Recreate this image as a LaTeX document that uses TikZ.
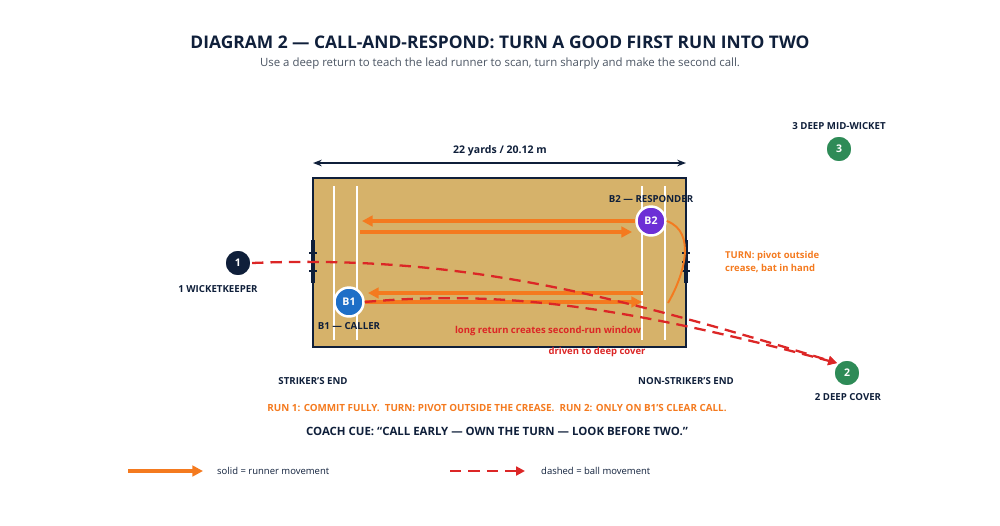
\documentclass[tikz,border=0pt]{standalone}
\usepackage{fontspec}
\setmainfont{Open Sans}
\usetikzlibrary{arrows.meta}
\definecolor{navy}{HTML}{0F1F3A}
\definecolor{pitch}{HTML}{D6B26A}
\definecolor{runc}{HTML}{F47A1F}
\definecolor{ballc}{HTML}{DC2626}
\definecolor{fieldc}{HTML}{2E8B57}
\definecolor{bluec}{HTML}{1E6FC7}
\definecolor{purplec}{HTML}{6D2FD6}
\definecolor{greyc}{HTML}{4B5563}
\tikzset{
  lbl/.style={font=\bfseries\fontsize{5.5}{6.5}\selectfont, text=navy},
  fielder/.style={circle, fill=#1, draw=white, line width=1pt, minimum size=15pt, inner sep=0pt, text=white, font=\bfseries\fontsize{6}{7}\selectfont},
  batter/.style={circle, fill=#1, draw=white, line width=1.4pt, minimum size=16.5pt, inner sep=0pt, text=white, font=\bfseries\fontsize{6}{7}\selectfont},
  run/.style={runc, line width=1.8pt, -{Triangle[length=6pt,width=6pt]}},
  ball/.style={ballc, line width=1.3pt, dash pattern=on 6.5pt off 4pt, -{Triangle[length=5pt,width=5pt]}},
  crease/.style={white, line width=0.9pt},
  stump/.style={navy, line width=2pt}
}
\begin{document}
\begin{tikzpicture}[x=0.02cm, y=-0.02cm]
	\useasboundingbox (0,0) rectangle (1000,525);
	
		% titles
		\node[font=\bfseries\fontsize{9.9}{12}\selectfont, text=navy] (title) at (500,42) {DIAGRAM 2 — CALL-AND-RESPOND: TURN A GOOD FIRST RUN INTO TWO};
		\node[font=\fontsize{6.5}{8}\selectfont, text=greyc] (sub) at (500,64) {Use a deep return to teach the lead runner to scan, turn sharply and make the second call.};
		
		% pitch
		\draw[navy, line width=1.3pt, fill=pitch] (313,178) rectangle (686,347);
		\foreach \x in {334,357,642,665}
			\draw[crease] (\x,186) -- (\x,340);
		\draw[stump] (313,240) -- (313,283);
		\draw[stump] (686,240) -- (686,283);
		\foreach \y in {253,262,271} {
			\draw[stump, line width=1.2pt] (309,\y) -- (317,\y);
			\draw[stump, line width=1.2pt] (682,\y) -- (690,\y);
		}
		
		% length
		\coordinate (lenL) at (313,163);
		\coordinate (lenR) at (686,163);
		\draw[navy, line width=0.9pt, {Stealth[length=5pt]}-{Stealth[length=5pt]}] (lenL) -- (lenR);
		\node[lbl, font=\bfseries\fontsize{6}{7}\selectfont] (len) at (500,151) {22 yards / 20.12 m};
		
		% players
		\node[fielder=navy] (wk) at (238,263) {1};
		\node[lbl] at (218,289) {1 WICKETKEEPER};
		\node[fielder=fieldc] (dc) at (847,373) {2};
		\node[lbl] at (848,397) {2 DEEP COVER};
		\node[fielder=fieldc] (dm) at (839,149) {3};
		\node[lbl] at (839,126) {3 DEEP MID-WICKET};
		\node[batter=bluec] (b1) at (349,302) {B1};
		\node[lbl] at (349,326) {B1 — CALLER};
		\node[batter=purplec] (b2) at (651,221) {B2};
		\node[lbl] at (651,199) {B2 — RESPONDER};
		
		% runs
		\coordinate (t1) at (362,221);
		\coordinate (t2) at (360,232);
		\coordinate (t3) at (632,232);
		\coordinate (m1) at (643,293);
		\coordinate (m2) at (368,293);
		\coordinate (m3) at (642,302);
		\coordinate (turn) at (668,303);
		\draw[run] (b2) -- (t1);
		\draw[run] (t2) -- (t3);
		\draw[run] (m1) -- (m2);
		\draw[run] (b1.east |- m3) -- (m3);
		\draw[runc, line width=1.1pt] (b2.east) to[out=-20, in=60] (turn);
		
		% ball
		\draw[ball] (wk.east) .. controls (450,255) and (600,290) .. (dc.north west);
		\draw[ball] (b1.east) .. controls (500,290) and (620,305) .. (dc.north west);
		
		% notes
		\node[font=\bfseries\fontsize{5.4}{7}\selectfont, text=runc, align=left, anchor=west] (tn) at (719,262) {TURN: pivot outside\\crease, bat in hand};
		\node[font=\bfseries\fontsize{5.4}{7}\selectfont, text=ballc] at (548,331) {long return creates second-run window};
		\node[font=\bfseries\fontsize{5.4}{7}\selectfont, text=ballc] at (597,352) {driven to deep cover};
		\node[lbl] at (313,381) {STRIKER'S END};
		\node[lbl] at (686,381) {NON-STRIKER'S END};
		\node[font=\bfseries\fontsize{5.6}{7}\selectfont, text=runc] at (497,408) {RUN 1: COMMIT FULLY.\ \ TURN: PIVOT OUTSIDE THE CREASE.\ \ RUN 2: ONLY ON B1'S CLEAR CALL.};
		\node[font=\bfseries\fontsize{6.5}{8}\selectfont, text=navy] at (497,431) {COACH CUE: “CALL EARLY — OWN THE TURN — LOOK BEFORE TWO.”};
		
		% legend
		\coordinate (lg1) at (128,471);
		\coordinate (lg2) at (203,471);
		\coordinate (lg3) at (450,471);
		\coordinate (lg4) at (525,471);
		\draw[run] (lg1) -- (lg2);
		\node[font=\fontsize{5.4}{7}\selectfont, text=navy, anchor=west] at (211,471) {solid = runner movement};
		\draw[ball] (lg3) -- (lg4);
		\node[font=\fontsize{5.4}{7}\selectfont, text=navy, anchor=west] at (535,471) {dashed = ball movement};
		
	\end{tikzpicture}
\end{document}
